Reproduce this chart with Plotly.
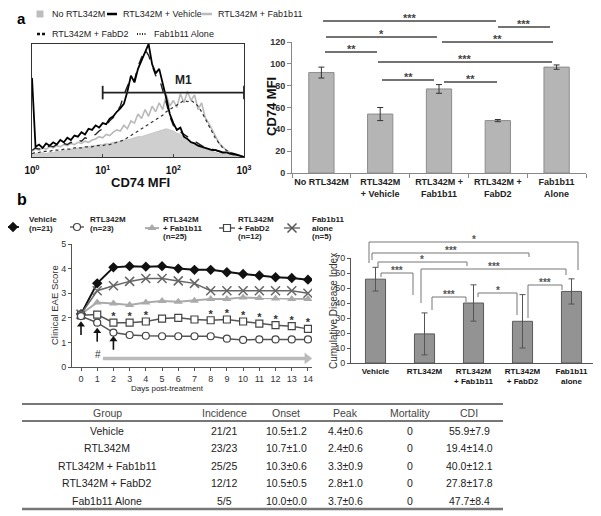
import plotly.graph_objects as go

# The page body adds an 8px margin, so the figure is 8px smaller and all
# pixel positions below are measured in the reference picture's frame.
OFF = 8
W, H = 601 - OFF, 516 - OFF
FONT = "Arial, Liberation Sans, sans-serif"


def px(x):
    return (x - OFF) / W


def py(y):
    return 1 - (y - OFF) / H


# ---------------- Panel a: CD74 histogram (log10 MFI bins) ----------------
hist_log = [round(i * 0.05, 2) for i in range(61)]
hist_no_rtl = [2, 3, 3, 4, 3, 4, 4, 5, 5, 6, 6, 7, 7, 8, 8, 9, 9, 10, 10, 11,
               11, 12, 12, 13, 13, 14, 15, 15, 16, 17, 18, 18, 19, 20, 21, 22, 23, 24, 25, 24,
               23, 21, 20, 18, 16, 14, 12, 10, 8, 7, 6, 5, 4, 3, 3, 2, 2, 1, 1, 0, 0]
hist_vehicle = [70, 9, 11, 8, 12, 10, 13, 11, 15, 13, 17, 15, 19, 18, 22, 20, 25, 24, 28, 26,
                30, 29, 34, 36, 40, 43, 47, 58, 72, 66, 78, 85, 92, 100, 82, 74, 78, 66, 52, 38,
                30, 24, 26, 18, 16, 13, 12, 10, 9, 8, 7, 6, 6, 5, 4, 4, 3, 3, 2, 1, 0]
hist_fab1b11 = [5, 7, 6, 8, 7, 9, 8, 10, 9, 11, 10, 12, 11, 13, 12, 14, 13, 15, 16, 18,
                17, 20, 19, 22, 24, 23, 28, 25, 32, 30, 38, 34, 42, 36, 45, 40, 48, 42, 55, 45,
                50, 44, 56, 48, 58, 50, 55, 42, 48, 35, 30, 24, 18, 12, 9, 6, 4, 3, 2, 1, 0]
hist_fabd2 = [6, 8, 7, 9, 8, 10, 9, 11, 10, 12, 11, 13, 12, 15, 14, 17, 16, 19, 20, 23,
              25, 28, 32, 35, 40, 45, 55, 62, 70, 68, 80, 88, 95, 90, 80, 72, 70, 60, 48, 36,
              28, 24, 22, 20, 18, 16, 14, 12, 10, 9, 8, 7, 6, 5, 4, 4, 3, 2, 2, 1, 0]
hist_alone = [3, 4, 4, 5, 5, 5, 6, 6, 6, 7, 7, 7, 8, 8, 8, 9, 9, 9, 10, 10,
              10, 11, 11, 12, 13, 14, 15, 17, 19, 21, 23, 25, 27, 29, 31, 33, 35, 37, 40, 42,
              44, 46, 48, 50, 49, 50, 48, 45, 40, 34, 28, 22, 16, 12, 8, 6, 4, 3, 2, 1, 0]
hist_ticks = [1, 10, 100, 1000]
hist_ticktext = ["10<sup>0</sup>", "10<sup>1</sup>", "10<sup>2</sup>", "10<sup>3</sup>"]
gate_lo, gate_hi, gate_y = 10, 1000, 57

# ---------------- Panel a: CD74 MFI bars ----------------
cd74_groups = ["No RTL342M", "RTL342M<br>+ Vehicle", "RTL342M +<br>Fab1b11",
               "RTL342M +<br>FabD2", "Fab1b11<br>Alone"]
cd74_mfi = [92, 54, 77, 48, 97]
cd74_err = [5, 6, 4, 1, 2]

# ---------------- Panel b: clinical EAE score ----------------
days = list(range(15))
eae_vehicle = [2.15, 3.4, 4.05, 4.1, 4.08, 4.1, 4.0, 3.95, 3.95, 3.85, 3.78, 3.72, 3.65, 3.62, 3.55]
eae_rtl = [2.07, 1.8, 1.4, 1.3, 1.27, 1.25, 1.25, 1.25, 1.25, 1.15, 1.1, 1.12, 1.12, 1.12, 1.12]
eae_fab1b11 = [2.15, 2.62, 2.58, 2.52, 2.62, 2.68, 2.65, 2.69, 2.76, 2.76, 2.83, 2.8, 2.78, 2.76, 2.76]
eae_fabd2 = [2.1, 2.13, 1.8, 1.8, 1.85, 1.97, 2.0, 1.93, 1.9, 1.93, 1.85, 1.76, 1.7, 1.66, 1.55]
eae_alone = [2.15, 3.1, 3.3, 3.48, 3.6, 3.6, 3.5, 3.4, 3.1, 3.1, 3.1, 3.1, 3.1, 3.1, 3.0]
sig_days = [2, 3, 4, 8, 9, 10, 11, 12, 13, 14]
treat_days = [0, 1, 2]
treat_tail = [1.3, 1.03, 0.7]
treat_head = [1.77, 1.5, 1.17]
effect_start, effect_end, effect_level = 1.35, 14.1, 0.35

# ---------------- Panel b: CDI bars ----------------
cdi_groups = ["Vehicle", "RTL342M", "RTL342M<br>+ Fab1b11", "RTL342M<br>+ FabD2", "Fab1b11<br>alone"]
cdi_mean = [55.9, 19.4, 40.0, 27.8, 47.7]
cdi_sd = [7.9, 14.0, 12.1, 17.8, 8.4]

# ---------------- Table ----------------
tbl_header = ["Group", "Incidence", "Onset", "Peak", "Mortality", "CDI"]
tbl_group = ["Vehicle", "RTL342M", "RTL342M + Fab1b11", "RTL342M + FabD2", "Fab1b11 Alone"]
tbl_incidence = ["21/21", "23/23", "25/25", "12/12", "5/5"]
tbl_onset = ["10.5±1.2", "10.7±1.0", "10.3±0.6", "10.5±0.5", "10.0±0.0"]
tbl_peak = ["4.4±0.6", "2.4±0.6", "3.3±0.9", "2.8±1.0", "3.7±0.6"]
tbl_mortality = ["0", "0", "0", "0", "0"]
tbl_cdi = ["55.9±7.9", "19.4±14.0", "40.0±12.1", "27.8±17.8", "47.7±8.4"]

fig = go.Figure()

# histogram traces
hx = [10 ** v for v in hist_log]
fig.add_trace(go.Scatter(x=hx, y=hist_no_rtl, mode="lines", fill="tozeroy", fillcolor="#cfcfcf",
                         line=dict(color="#c6c6c6", width=1), xaxis="x", yaxis="y"))
fig.add_trace(go.Scatter(x=hx, y=hist_fab1b11, mode="lines", line=dict(color="#b9b9b9", width=1.6),
                         xaxis="x", yaxis="y"))
fig.add_trace(go.Scatter(x=hx, y=hist_alone, mode="lines", line=dict(color="#333333", width=1.2, dash="dot"),
                         xaxis="x", yaxis="y"))
fig.add_trace(go.Scatter(x=hx, y=hist_fabd2, mode="lines", line=dict(color="#222222", width=1.4, dash="dash"),
                         xaxis="x", yaxis="y"))
fig.add_trace(go.Scatter(x=hx, y=hist_vehicle, mode="lines", line=dict(color="#000000", width=1.8),
                         xaxis="x", yaxis="y"))
fig.add_trace(go.Scatter(x=[gate_lo, gate_lo, None, gate_lo, gate_hi, None, gate_hi, gate_hi],
                         y=[gate_y - 6, gate_y + 6, None, gate_y, gate_y, None, gate_y - 6, gate_y + 6],
                         mode="lines", line=dict(color="#222222", width=1.8), cliponaxis=False,
                         xaxis="x", yaxis="y"))

# CD74 bars
fig.add_trace(go.Bar(x=cd74_groups, y=cd74_mfi, width=0.43,
                     error_y=dict(type="data", array=cd74_err, color="#333333", thickness=1, width=3),
                     marker=dict(color="#b5b5b5", line=dict(color="#8c8c8c", width=1)),
                     xaxis="x2", yaxis="y2"))

# EAE lines
fig.add_trace(go.Scatter(x=days, y=eae_vehicle, mode="lines+markers",
                         line=dict(color="#111111", width=2),
                         marker=dict(symbol="diamond", size=8, color="#111111"), xaxis="x3", yaxis="y3"))
fig.add_trace(go.Scatter(x=days, y=eae_alone, mode="lines+markers",
                         line=dict(color="#666666", width=1.5),
                         marker=dict(symbol="x-thin-open", size=9, color="#666666",
                                     line=dict(color="#666666", width=1.5)),
                         xaxis="x3", yaxis="y3"))
fig.add_trace(go.Scatter(x=days, y=eae_fab1b11, mode="lines+markers",
                         line=dict(color="#aaaaaa", width=2),
                         marker=dict(symbol="triangle-up", size=8, color="#aaaaaa"), xaxis="x3", yaxis="y3"))
fig.add_trace(go.Scatter(x=days, y=eae_fabd2, mode="lines+markers",
                         line=dict(color="#555555", width=1.5),
                         marker=dict(symbol="square", size=7, color="white", line=dict(color="#444444", width=1.2)),
                         xaxis="x3", yaxis="y3"))
fig.add_trace(go.Scatter(x=days, y=eae_rtl, mode="lines+markers",
                         line=dict(color="#555555", width=1.5),
                         marker=dict(symbol="circle", size=7, color="white", line=dict(color="#444444", width=1.2)),
                         xaxis="x3", yaxis="y3"))
fig.add_trace(go.Scatter(x=sig_days, y=[eae_fabd2[d] + 0.22 for d in sig_days], mode="text",
                         text=["*"] * len(sig_days),
                         textfont=dict(size=11, color="#333333", family=FONT, weight="bold"),
                         cliponaxis=False, xaxis="x3", yaxis="y3"))

# treatment arrows (shaft + head)
shaft_x, shaft_y = [], []
for d, t0, t1 in zip(treat_days, treat_tail, treat_head):
    shaft_x += [d, d, None]
    shaft_y += [t0, t1 - 0.08, None]
fig.add_trace(go.Scatter(x=shaft_x, y=shaft_y, mode="lines", line=dict(color="#111111", width=1.6),
                         xaxis="x3", yaxis="y3"))
fig.add_trace(go.Scatter(x=treat_days, y=[t - 0.05 for t in treat_head], mode="markers",
                         marker=dict(symbol="triangle-up", size=7, color="#111111"), xaxis="x3", yaxis="y3"))
# sustained-effect arrow
fig.add_trace(go.Scatter(x=[effect_start, effect_end - 0.2], y=[effect_level, effect_level], mode="lines",
                         line=dict(color="#bbbbbb", width=3.5), xaxis="x3", yaxis="y3"))
fig.add_trace(go.Scatter(x=[effect_end - 0.15], y=[effect_level], mode="markers",
                         marker=dict(symbol="triangle-right", size=10, color="#bbbbbb"),
                         cliponaxis=False, xaxis="x3", yaxis="y3"))

# CDI bars
fig.add_trace(go.Bar(x=cdi_groups, y=cdi_mean, width=0.41,
                     error_y=dict(type="data", array=cdi_sd, color="#555555", thickness=1, width=3),
                     marker=dict(color="#939393", line=dict(color="#5a5a5a", width=1)),
                     xaxis="x4", yaxis="y4"))


# legend symbols on a full-page pixel overlay axis
def leg_line(x0, x1, y, color, width, dash="solid"):
    fig.add_trace(go.Scatter(x=[x0, x1], y=[y, y], mode="lines", line=dict(color=color, width=width, dash=dash),
                             xaxis="x5", yaxis="y5"))


def leg_marker(x, y, **mk):
    fig.add_trace(go.Scatter(x=[x], y=[y], mode="markers", marker=mk, xaxis="x5", yaxis="y5"))


leg_marker(40, 14, symbol="square", size=7, color="#bdbdbd")
leg_line(107, 117, 14, "#000000", 2.5)
leg_line(202, 212, 14, "#bbbbbb", 2.5)
leg_line(37, 47, 34, "#111111", 2.5, "3px,2px")
leg_line(137, 147, 34, "#222222", 1.8, "1px,1.5px")

leg_line(8, 19, 227, "#111111", 1.8)
leg_marker(13, 227, symbol="diamond", size=8, color="#111111")
leg_line(70, 84, 227, "#555555", 1.4)
leg_marker(77, 227, symbol="circle", size=7, color="white", line=dict(color="#444444", width=1.2))
leg_line(145, 159, 228, "#aaaaaa", 1.8)
leg_marker(152, 228, symbol="triangle-up", size=8, color="#aaaaaa")
leg_line(219, 235, 228, "#555555", 1.4)
leg_marker(227, 228, symbol="square", size=7, color="white", line=dict(color="#444444", width=1.2))
leg_line(284, 300, 228, "#666666", 1.4)
leg_marker(292, 228, symbol="x-thin-open", size=9, color="#555555", line=dict(color="#555555", width=1.5))

annotations = []
shapes = []


def ann(x, y, text, size, bold=False, color="#222222", xanchor="center", yanchor="middle", angle=0):
    annotations.append(dict(x=px(x), y=py(y), xref="paper", yref="paper", text=text, showarrow=False,
                            xanchor=xanchor, yanchor=yanchor, textangle=angle,
                            font=dict(size=size, color=color, family=FONT, weight="bold" if bold else "normal")))


def hline(x0, x1, y, color="#333333", width=1.2):
    shapes.append(dict(type="line", xref="paper", yref="paper", x0=px(x0), x1=px(x1), y0=py(y), y1=py(y),
                       line=dict(color=color, width=width)))


# panel labels
ann(21, 8, "a", 15, True, "#000000", yanchor="top")
ann(22, 199, "b", 16, True, "#000000")

# panel a legend text
for t, x, y in [("No RTL342M", 50, 14), ("RTL342M + Vehicle", 121, 14), ("RTL342M + Fab1b11", 216, 14),
                ("RTL342M + FabD2", 50, 34), ("Fab1b11 Alone", 152, 34)]:
    ann(x, y, t, 9, False, "#222222", "left")

ann(140, 182, "CD74 MFI", 13, True, "#111111")
ann(183, 80, "M1", 12, True, "#222222")
ann(271, 107, "CD74 MFI", 13, True, "#111111", angle=-90)

# panel a significance lines
a_sig = [(323, 496, 21, "***"), (498, 550, 27, "***"), (326, 437, 37, "*"), (442, 553, 42, "**"),
         (325, 377, 52, "**"), (378, 552, 62, "***"), (382, 434, 80, "**"), (444, 497, 82, "**")]
for x0, x1, y, lab in a_sig:
    hline(x0, x1, y, "#444444", 1.3)
    ann((x0 + x1) / 2, y - 3, lab, 11, True, "#444444", yanchor="middle")

# panel b legend text
b_leg = [(27, ["Vehicle", "(n=21)"]), (88, ["RTL342M", "(n=23)"]),
         (161, ["RTL342M", "+ Fab1b11", "(n=25)"]), (236, ["RTL342M", "+ FabD2", "(n=12)"]),
         (310, ["Fab1b11", "alone", "(n=5)"])]
for x, lines in b_leg:
    for i, t in enumerate(lines):
        ann(x, 220 + 8.3 * i, t, 8, True, "#222222", "left")

ann(54, 305, "Clinical EAE Score", 9.5, False, "#333333", angle=-90)
ann(167, 388, "Days post-treatment", 8, False, "#222222")
ann(333, 311, "Cumulative Disease Index", 10, False, "#333333", angle=-90)
annotations.append(dict(x=1.05, y=0.5, xref="x3", yref="y3", text="#", showarrow=False,
                        font=dict(size=10, color="#333333", family=FONT)))

# CDI significance brackets (pixel layout)
b_sig = [(369, 578, 242, 263, 270, "*"), (372, 529, 253, 260, 257, "***"), (378, 467, 262, 267, 266, "*"),
         (381, 413, 273, 277, 295, "***"), (421, 566, 269, 303, 275, "***"), (432, 466, 297, 310, 302, "***"),
         (478, 517, 293, 297, 315, "*"), (528, 562, 285, 318, 290, "***")]
for x0, x1, y, yl, yr, lab in b_sig:
    path = "M {} {} L {} {} L {} {} L {} {}".format(px(x0), py(yl), px(x0), py(y), px(x1), py(y), px(x1), py(yr))
    shapes.append(dict(type="path", xref="paper", yref="paper", path=path, line=dict(color="#777777", width=1)))
    ann((x0 + x1) / 2, y - 3, lab, 10, True, "#555555")

# table
tbl_cols_x = [107, 224, 286, 345, 410, 469]
hline(22, 503, 404, "#777777", 2)
hline(22, 503, 421, "#777777", 2)
hline(22, 503, 509, "#777777", 2.5)
for x, h in zip(tbl_cols_x, tbl_header):
    ann(x, 413, h, 10.5, False, "#444444")
row_y = [431, 448, 466, 483, 501]
for col, x in zip([tbl_group, tbl_incidence, tbl_onset, tbl_peak, tbl_mortality, tbl_cdi], tbl_cols_x):
    for y, t in zip(row_y, col):
        ann(x, y, t, 10.5, False, "#222222")

axis_common = dict(showgrid=False, zeroline=False, automargin=False)
tick_font = dict(family=FONT, size=9, color="#333333")
fig.update_layout(
    width=W, height=H, margin=dict(l=0, r=0, t=0, b=0, pad=0, autoexpand=False),
    paper_bgcolor="white", plot_bgcolor="rgba(0,0,0,0)", showlegend=False,
    font=dict(family=FONT),
    xaxis=dict(domain=[px(32), px(244)], type="log", range=[0, 3], anchor="y", tickvals=hist_ticks,
               ticktext=hist_ticktext, ticks="inside", ticklen=3, showline=True, mirror=True,
               linecolor="#333333", linewidth=1.2, ticklabelstandoff=4, tickangle=0,
               tickfont=dict(family=FONT, size=10, color="#111111", weight="bold"), **axis_common),
    yaxis=dict(domain=[py(157), py(44)], range=[0, 100], anchor="x", showline=True, mirror=True,
               linecolor="#333333", linewidth=1.2, showticklabels=False, ticks="", **axis_common),
    xaxis2=dict(domain=[px(292), px(586)], anchor="y2", showline=True, linecolor="#888888",
                ticks="outside", tickson="boundaries", ticklen=4, tickcolor="#888888", tickangle=0,
                tickfont=dict(family=FONT, size=9, color="#222222", weight="bold"), **axis_common),
    yaxis2=dict(domain=[py(173), py(42)], range=[0, 120], dtick=20, anchor="x2", showline=True,
                linecolor="#888888", ticks="outside", ticklen=4, tickcolor="#888888",
                tickfont=dict(family=FONT, size=9, color="#333333", weight="bold"), **axis_common),
    xaxis3=dict(domain=[px(72), px(312)], range=[-0.555, 14.25], dtick=1, anchor="y3", showline=True,
                linecolor="#555555", ticks="outside", ticklen=3, tickcolor="#555555", tickfont=tick_font,
                tickangle=0, **axis_common),
    yaxis3=dict(domain=[py(367), py(244)], range=[0, 5], dtick=1, anchor="x3", showline=True,
                linecolor="#555555", ticks="outside", ticklen=3, tickcolor="#555555", tickfont=tick_font,
                **axis_common),
    xaxis4=dict(domain=[px(351), px(596)], anchor="y4", showline=True, linecolor="#555555", ticks="",
                tickangle=0, tickfont=dict(family=FONT, size=8, color="#111111", weight="bold"), **axis_common),
    yaxis4=dict(domain=[py(363), py(258)], range=[0, 70], dtick=10, anchor="x4", showline=True,
                linecolor="#555555", ticks="outside", ticklen=3, tickcolor="#555555", tickfont=tick_font,
                **axis_common),
    xaxis5=dict(domain=[0, 1], range=[OFF, OFF + W], anchor="y5", visible=False, fixedrange=True,
                automargin=False),
    yaxis5=dict(domain=[0, 1], range=[OFF + H, OFF], anchor="x5", visible=False, fixedrange=True,
                automargin=False),
    annotations=annotations, shapes=shapes,
)

fig.write_html("out.html")
